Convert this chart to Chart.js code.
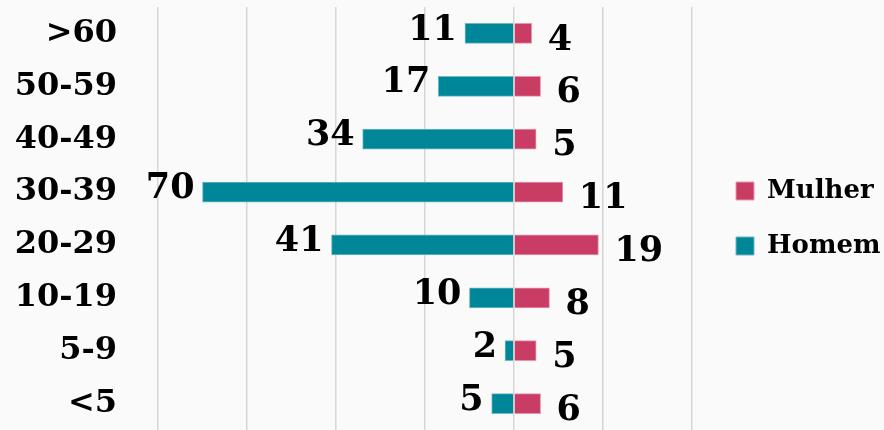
<!DOCTYPE html>
<html>
<head>
<meta charset="utf-8">
<script src="https://cdn.jsdelivr.net/npm/chart.js@4/dist/chart.umd.min.js"></script>
<style>
  html, body { margin: 0; padding: 0; background: #fafafa; }
  #wrap { width: 884px; height: 430px; position: relative; }
</style>
</head>
<body>
<div id="wrap"><canvas id="grafico"></canvas></div>
<script>
const faixas = ['>60', '50-59', '40-49', '30-39', '20-29', '10-19', '5-9', '<5'];
const mulher = [4, 6, 5, 11, 19, 8, 5, 6];
const homem = [11, 17, 34, 70, 41, 10, 2, 5];
const ticksX = [-80, -60, -40, -20, 0, 20, 40];

const corMulher = 'rgb(201, 61, 100)';
const corHomem = 'rgb(0, 134, 153)';
const fonte = '"DejaVu Serif", "Liberation Serif", serif';

// rótulos de valor desenhados na ponta de cada barra
const rotulos = {
    id: 'rotulos',
    afterDatasetsDraw(chart) {
        const ctx = chart.ctx;
        ctx.save();
        ctx.fillStyle = '#000';
        ctx.font = 'bold 35px ' + fonte;
        ctx.textBaseline = 'middle';
        chart.data.datasets.forEach((ds, i) => {
            const meta = chart.getDatasetMeta(i);
            meta.data.forEach((barra, j) => {
                const valor = Math.abs(ds.data[j]);
                if (ds.data[j] < 0) {
                    ctx.textAlign = 'right';
                    ctx.fillText(valor, barra.x - 8, barra.y - 3);
                } else {
                    ctx.textAlign = 'left';
                    ctx.fillText(valor, barra.x + 16, barra.y + 7);
                }
            });
        });
        ctx.restore();
    }
};

new Chart(document.getElementById('grafico'), {
    type: 'bar',
    data: {
        labels: faixas,
        datasets: [
            {
                label: 'Mulher',
                data: mulher,
                backgroundColor: corMulher,
                borderColor: 'rgb(232, 150, 172)',
                borderWidth: 1,
                barThickness: 20
            },
            {
                label: 'Homem',
                data: homem.map(v => -v),
                backgroundColor: corHomem,
                borderColor: 'rgb(110, 185, 196)',
                borderWidth: 1,
                barThickness: 20
            }
        ]
    },
    options: {
        indexAxis: 'y',
        responsive: true,
        maintainAspectRatio: false,
        animation: false,
        layout: { padding: { top: 7, right: 0, bottom: 0, left: 0 } },
        scales: {
            x: {
                stacked: true,
                min: -80,
                max: 43.4,
                afterBuildTicks(scale) {
                    scale.ticks = ticksX.map(v => ({ value: v }));
                },
                afterFit(scale) { scale.height = 0; },
                ticks: { display: false },
                border: { display: false },
                grid: { color: '#d6d6d6', lineWidth: 1.5, drawTicks: false }
            },
            y: {
                stacked: true,
                afterFit(scale) {
                    scale.width = 158;
                    scale.paddingTop = 0;
                    scale.paddingBottom = 0;
                },
                grid: { display: false, drawTicks: false },
                border: { display: false },
                ticks: {
                    color: '#000',
                    padding: 41,
                    font: { family: fonte, size: 32, weight: 'bold' }
                }
            }
        },
        plugins: {
            legend: {
                position: 'right',
                maxWidth: 177,
                labels: {
                    color: '#000',
                    boxWidth: 18,
                    boxHeight: 18,
                    padding: 29,
                    font: { family: fonte, size: 26, weight: 'bold' }
                }
            },
            tooltip: { enabled: false }
        }
    },
    plugins: [rotulos]
});
</script>
</body>
</html>
